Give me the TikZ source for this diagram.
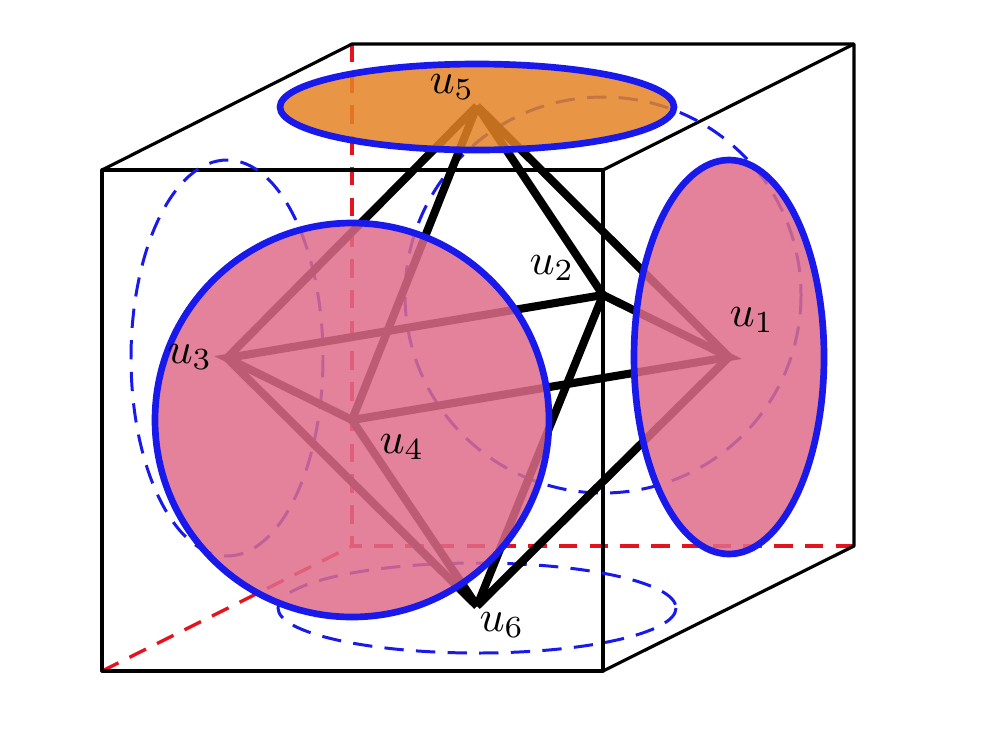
\documentclass[tikz,border=0pt]{standalone}
\usepackage{amsmath,amssymb}
\usepackage{tikz}
\definecolor{faceblue}{RGB}{25,25,235}
\definecolor{facepink}{RGB}{223,108,137}
\definecolor{faceorange}{RGB}{228,132,38}
\definecolor{hiddenred}{RGB}{228,20,30}
\newcommand{\ulabel}[1]{\scalebox{2.5}{$u_{#1}$}}

\begin{document}
\begin{tikzpicture}[
    x=0.02cm, y=-0.02cm,
    cube/.style   = {draw=black, line width=1.8pt, line join=round},
    hidden/.style = {draw=hiddenred, line width=1.9pt, dash pattern=on 10.5pt off 7pt},
    ghost/.style  = {draw=faceblue, line width=1.7pt, dash pattern=on 11pt off 7pt},
    edge/.style   = {draw=black, line width=4.6pt},
    face/.style   = {draw=faceblue, line width=3.8pt, fill opacity=0.85},
    lbl/.style    = {inner sep=0pt},
]
\useasboundingbox (0,0) rectangle (982,741);

% hidden edges of the cube
\coordinate (c1) at (102,671);
\coordinate (c2) at (603,671);
\coordinate (c3) at (603,170);
\coordinate (c4) at (102,170);
\coordinate (b1) at (352,546);
\coordinate (b2) at (854,546);
\coordinate (b3) at (854,44);
\coordinate (b4) at (352,44);
\draw[hidden] (c1) -- (b1);
\draw[hidden] (b4) -- (b1);
\draw[hidden] (b2) -- (b1);

% visible edges
\draw[cube] (c1) -- (c2) -- (c3) -- (c4) -- cycle;
\draw[cube] (c4) -- (b4) -- (b3) -- (b2) -- (c2);
\draw[cube] (c3) -- (b3);

% dashed circles on the far faces
\draw[ghost] (227,358) ellipse [x radius=96, y radius=198];
\draw[ghost] (603,295) ellipse [x radius=198, y radius=198];
\draw[ghost] (477,608) ellipse [x radius=199, y radius=45];

% octahedron
\coordinate (u1) at (729,357);
\coordinate (u2) at (603,295);
\coordinate (u3) at (227,358);
\coordinate (u4) at (352,420);
\coordinate (u5) at (477,106);
\coordinate (u6) at (477,606);
\foreach \a/\b in {u5/u1,u5/u2,u5/u3,u5/u4,u6/u1,u6/u2,u6/u3,u6/u4}
    \draw[edge] (\a) -- (\b);
\draw[edge] (u1) -- (u2) -- (u3) -- (u4) -- cycle;

% filled faces
\draw[face, fill=facepink]   (352,420) circle [radius=197];
\draw[face, fill=facepink]   (729,357) ellipse [x radius=95, y radius=197];
\draw[face, fill=faceorange] (477,107) ellipse [x radius=197, y radius=43];

\node[lbl] (l1) at (752,320) {\ulabel{1}};
\node[lbl] (l2) at (552,268) {\ulabel{2}};
\node[lbl] (l3) at (190,357) {\ulabel{3}};
\node[lbl] (l4) at (402,447) {\ulabel{4}};
\node[lbl] (l5) at (452,87)  {\ulabel{5}};
\node[lbl] (l6) at (502,625) {\ulabel{6}};
\end{tikzpicture}
\end{document}
